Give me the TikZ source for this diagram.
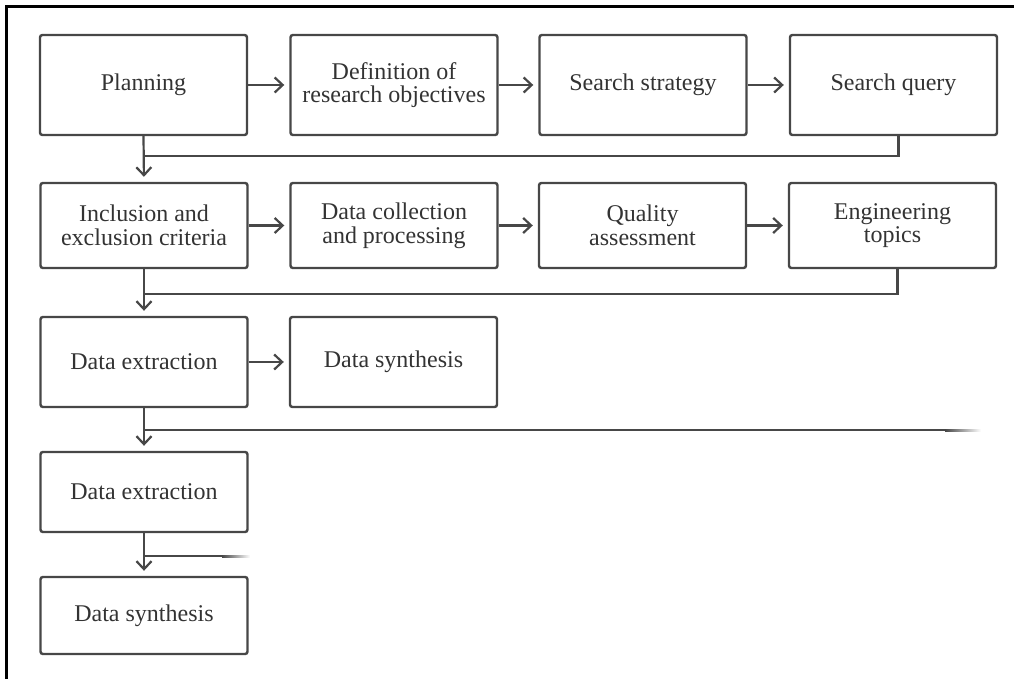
\documentclass[tikz,border=0pt]{standalone}
\usepackage{fontspec}
\setmainfont{Liberation Serif}
\usetikzlibrary{arrows.meta}
\definecolor{ink}{HTML}{474747}
\definecolor{txt}{HTML}{333333}
\begin{document}
\begin{tikzpicture}[x=0.5pt,y=-0.5pt,
  stage/.style={draw=ink, line width=1.2pt, rounded corners=1.2pt, text=txt,
    align=center, minimum width=103.5pt, inner sep=0pt,
    font=\fontsize{12}{11.8}\selectfont},
  rowA/.style={stage, minimum height=50pt},
  rowB/.style={stage, minimum height=42.5pt},
  rowC/.style={stage, minimum height=45pt},
  rowD/.style={stage, minimum height=40pt},
  rowE/.style={stage, minimum height=38.5pt},
  link/.style={draw=ink, line width=1.1pt},
  flow/.style={link, -{Straight Barb[length=4pt,width=7.5pt,line width=1.1pt]}, shorten >=2.5pt},
  tail/.style={left color=ink, right color=white, draw=none}
]
\useasboundingbox (0,0) rectangle (1014,679);

% outer frame (top and left rules)
\draw[black, line width=1.5pt] (6.5,679) -- (6.5,6.5) -- (1014,6.5);

% first row
\node[rowA] (p1) at (143.5,85) {Planning};
\node[rowA] (p2) at (394,85) {Definition of\\research objectives};
\node[rowA] (p3) at (643,85) {Search strategy};
\node[rowA] (p4) at (893.5,85) {Search query};

% second row
\node[rowB] (q1) at (144,225.5) {Inclusion and\\exclusion criteria};
\node[rowB] (q2) at (394,225.5) {Data collection\\and processing};
\node[rowB] (q3) at (642.5,225.5) {Quality\\assessment};
\node[rowB] (q4) at (892.5,225.5) {Engineering\\topics};

% third row
\node[rowC] (r1) at (144,362) {Data extraction};
\node[rowC] (r2) at (393.5,362) {Data synthesis};

% fourth and fifth rows
\node[rowD] (s1) at (144,492) {Data extraction};
\node[rowE] (t1) at (144,615.5) {Data synthesis};

% horizontal steps
\draw[flow] (p1) -- (p2);
\draw[flow] (p2) -- (p3);
\draw[flow] (p3) -- (p4);
\draw[flow] (q1) -- (q2);
\draw[flow] (q2) -- (q3);
\draw[flow] (q3) -- (q4);
\draw[flow] (r1) -- (r2);

% downward steps
\draw[flow] (p1.south) -- (q1.north);
\draw[flow] (q1.south) -- (r1.north);
\draw[flow] (r1.south) -- (s1.north);
\draw[flow] (s1.south) -- (t1.north);

% return lines joining the downward steps
\path (p1.south) ++(0,20) coordinate (j1);
\path (q1.south) ++(0,25) coordinate (j2);
\path (r1.south) ++(0,22) coordinate (j3);
\path (s1.south) ++(0,23) coordinate (j4);
\draw[link] ([xshift=2.5pt]p4.south) |- (j1);
\draw[link] ([xshift=2.5pt]q4.south) |- (j2);

% open-ended lines that fade out to the right
\path (j3) ++(801,0) coordinate (e3);
\path (j4) ++(78,0) coordinate (e4);
\draw[link] (e3) -- (j3);
\draw[link] (e4) -- (j4);
\shade[tail] ([yshift=0.55pt]e3) rectangle ++(36,2.2);
\shade[tail] ([yshift=0.55pt]e4) rectangle ++(28,2.2);
\end{tikzpicture}
\end{document}
